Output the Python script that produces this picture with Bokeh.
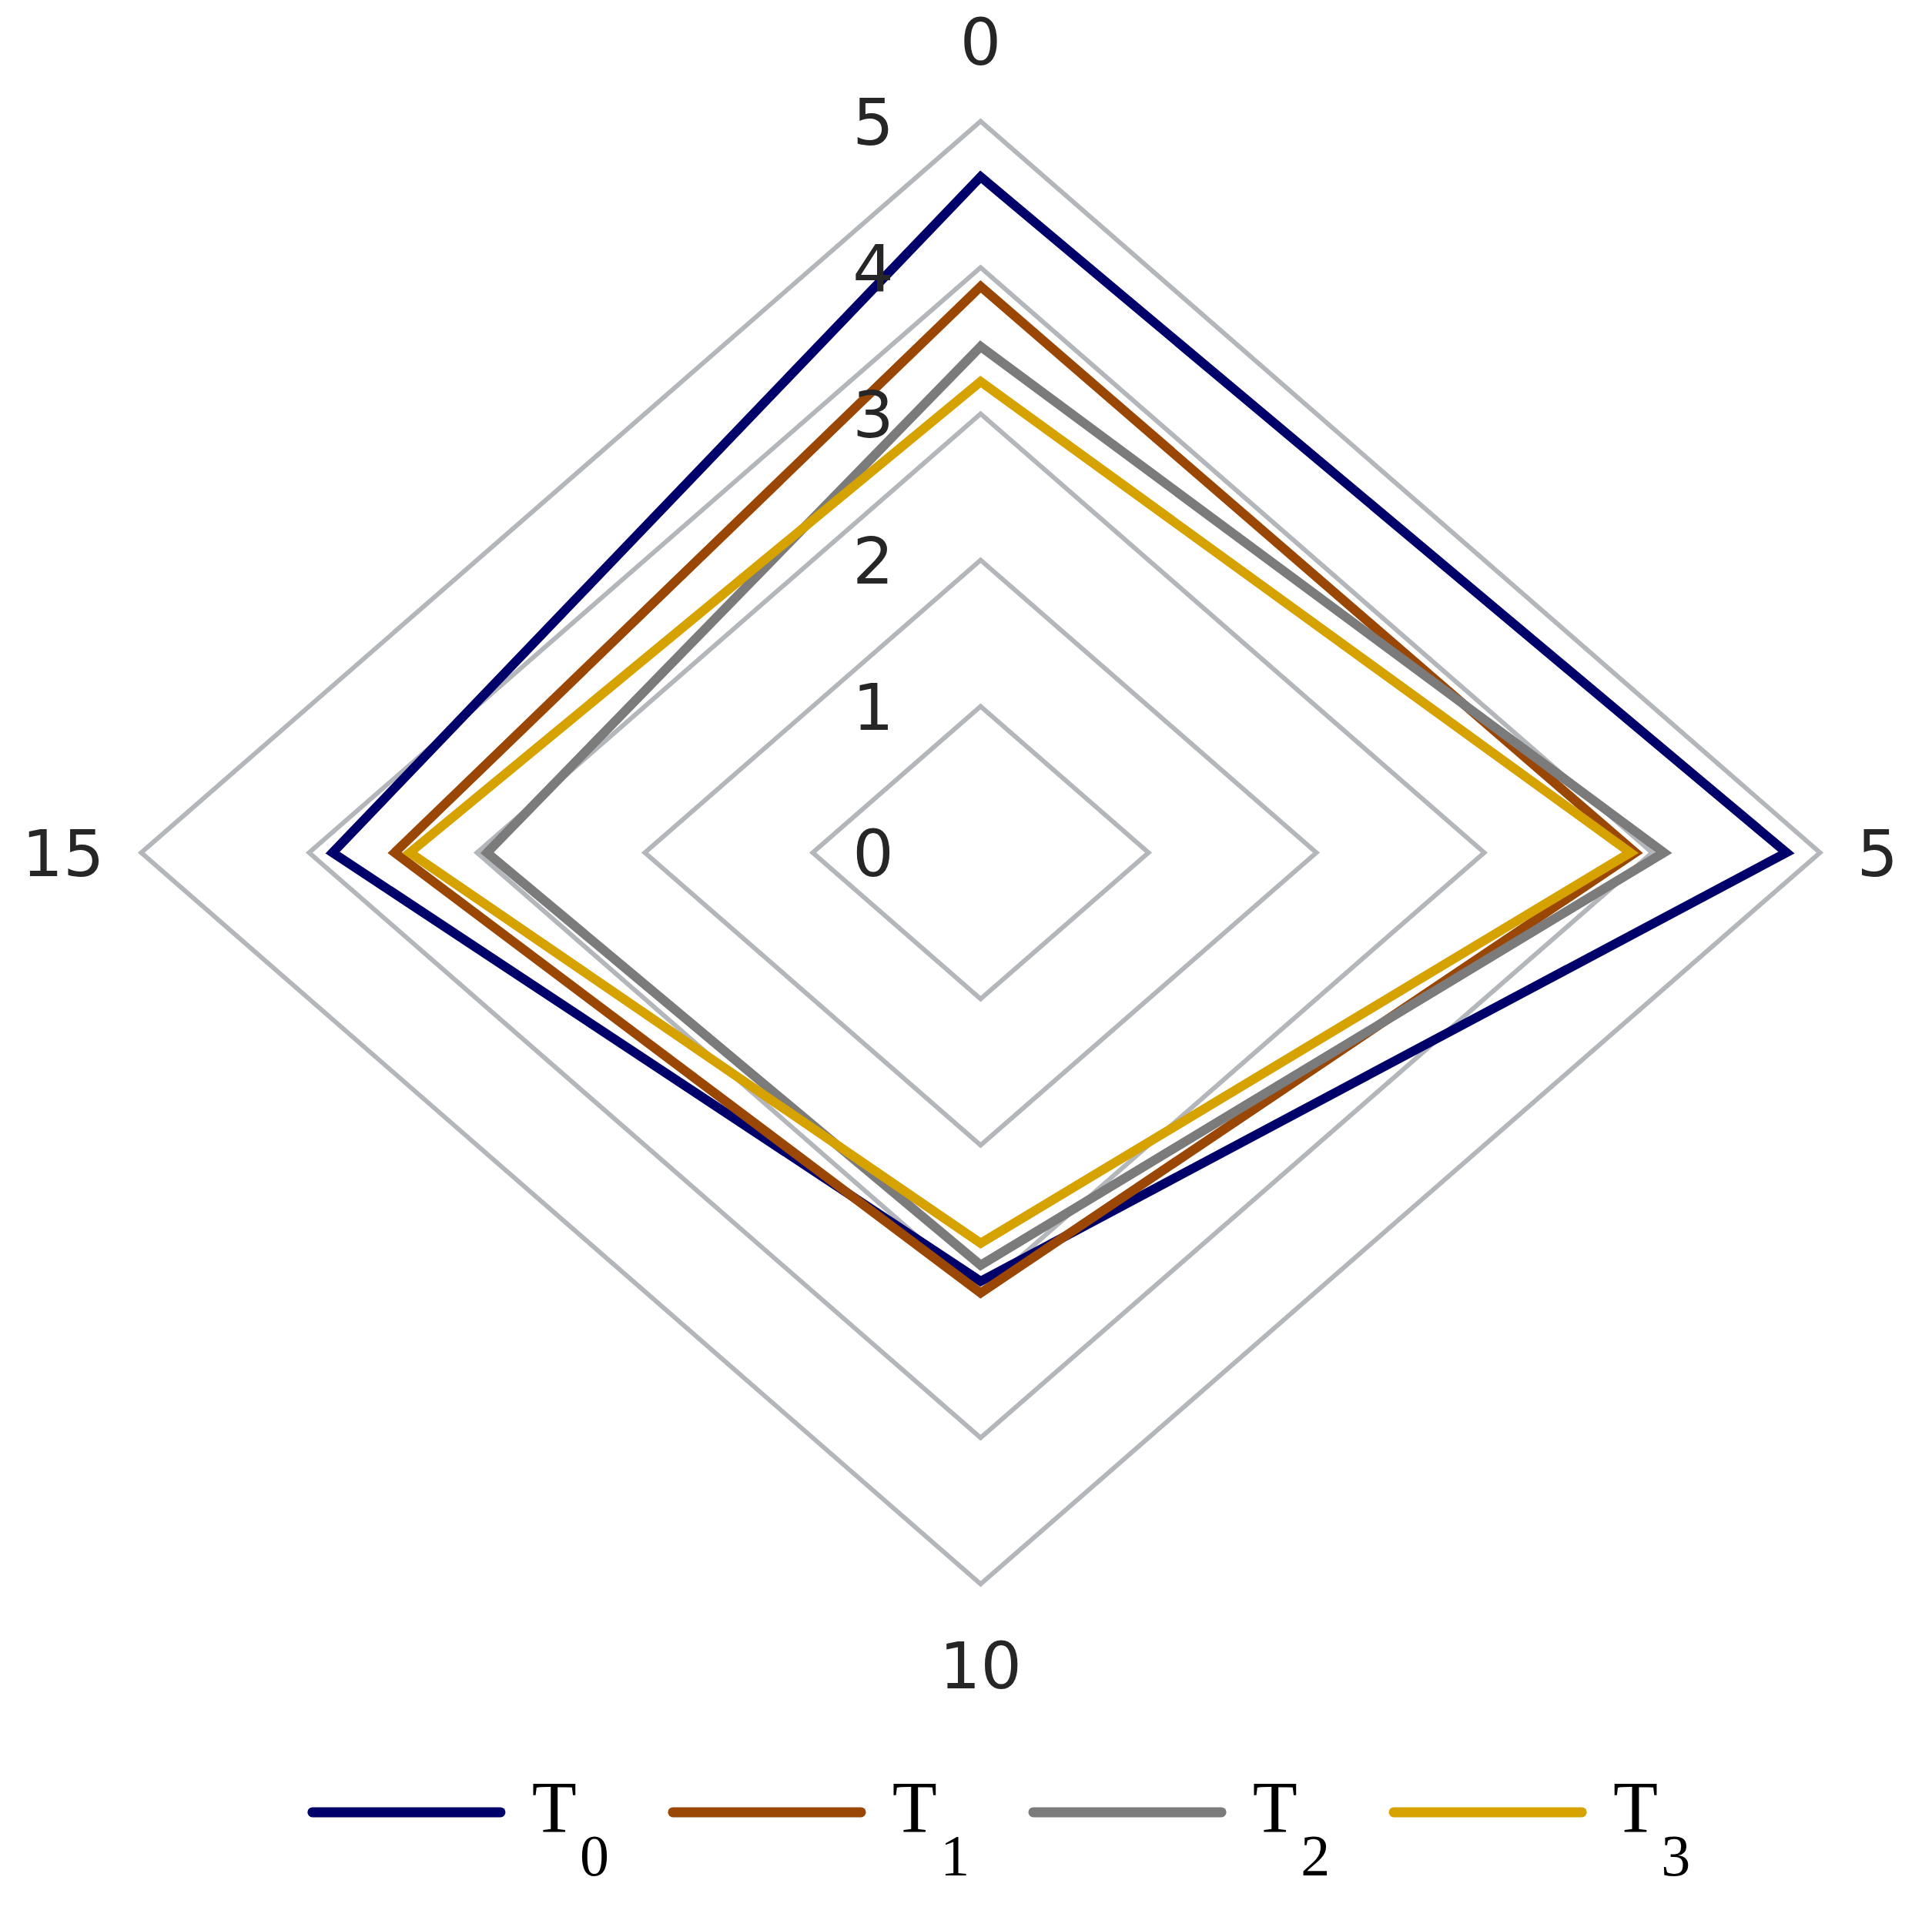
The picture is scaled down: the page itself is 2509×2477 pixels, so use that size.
import numpy as np
from bokeh.plotting import figure
from bokeh.models import Range1d
from bokeh.core.properties import value
from bokeh.embed import file_html
from bokeh.resources import INLINE

# ---------------- data ----------------
axis_labels = ["0", "5", "10", "15"]            # spokes: top, right, bottom, left
ring_levels = [1, 2, 3, 4, 5]
radial_tick_labels = ["0", "1", "2", "3", "4", "5"]
series_names = ["T", "T", "T", "T"]
series_subscripts = ["0", "1", "2", "3"]
T0 = [4.62, 4.80, 2.93, 3.86]
T1 = [3.87, 3.90, 3.01, 3.49]
T2 = [3.46, 4.07, 2.82, 2.94]
T3 = [3.22, 3.87, 2.67, 3.40]
series_values = [T0, T1, T2, T3]
series_colors = ["#00006a", "#9a4705", "#7b7b7b", "#d6a200"]

# ---------------- geometry helpers ----------------
dirs = [(0.0, 1.0), (1.0, 0.0), (0.0, -1.0), (-1.0, 0.0)]


def polygon(vals):
    xs = [v * dx for v, (dx, dy) in zip(vals, dirs)]
    ys = [v * dy for v, (dx, dy) in zip(vals, dirs)]
    return xs, ys


W, H = 2493, 2461
p = figure(width=W, height=H,
           x_range=Range1d(-5.839, 5.596), y_range=Range1d(-7.126, 5.826),
           output_backend="svg", toolbar_location=None,
           x_axis_location=None, y_axis_location=None,
           min_border=0, outline_line_color=None,
           background_fill_color="white", border_fill_color="white")
p.grid.visible = False

# rings
ring_xs, ring_ys = [], []
for r in ring_levels:
    xs, ys = polygon([r] * 4)
    ring_xs.append(xs)
    ring_ys.append(ys)
p.patches(ring_xs, ring_ys, fill_color=None, line_color="#b3b6ba",
          line_width=6, line_join="miter")

# series
for vals, col in zip(series_values, series_colors):
    xs, ys = polygon(vals)
    p.patch(xs, ys, fill_color=None, line_color=col, line_width=12,
            line_join="miter")

# radial tick labels
rmax = max(ring_levels)
p.text(x=[-0.64] * len(radial_tick_labels),
       y=[float(t) for t in radial_tick_labels],
       text=radial_tick_labels, text_align="center", text_baseline="middle",
       text_font=value("DejaVu Sans"), text_font_size="84px",
       text_color="#262626")

# spoke labels
pad_v, pad_h = 0.55, 0.22
lab_x = [0.0, rmax + pad_h, 0.0, -(rmax + pad_h)]
lab_y = [rmax + pad_v, 0.0, -(rmax + pad_v), 0.0]
aligns = ["center", "left", "center", "right"]
for lx, ly, t, a in zip(lab_x, lab_y, axis_labels, aligns):
    p.text(x=[lx], y=[ly], text=[t], text_align=a, text_baseline="middle",
           text_font=value("DejaVu Sans"), text_font_size="84px",
           text_color="#262626")

# legend (manual, horizontal)
leg_x0, leg_step, sw_len, leg_y = -3.98, 2.147, 1.12, -6.56
for i, (nm, sub, col) in enumerate(zip(series_names, series_subscripts, series_colors)):
    bx = leg_x0 + i * leg_step
    p.line([bx, bx + sw_len], [leg_y, leg_y], line_color=col, line_width=13,
           line_cap="round")
    p.text(x=[bx + 1.44], y=[leg_y + 0.03], text=[nm], text_align="center",
           text_baseline="middle", text_font=value("Liberation Serif"),
           text_font_size="95px", text_color="black")
    p.text(x=[bx + 1.68], y=[leg_y - 0.30], text=[sub], text_align="center",
           text_baseline="middle", text_font=value("Liberation Serif"),
           text_font_size="76px", text_color="black")

open("out.html", "w").write(file_html(p, INLINE))
